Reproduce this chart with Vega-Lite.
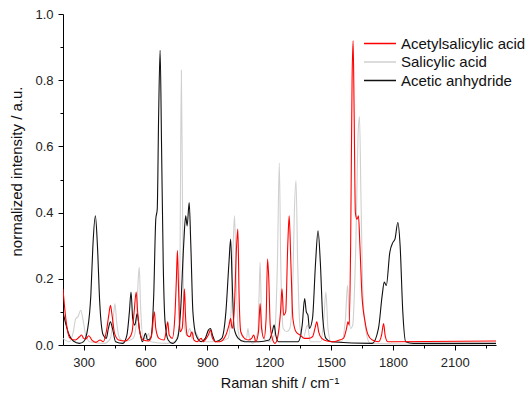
{
"$schema": "https://vega.github.io/schema/vega-lite/v6.json",
"width": 433, "height": 331,
"autosize": {"type": "none"},
"padding": {"left": 63, "top": 14, "right": 30, "bottom": 49},
"background": "white",
"config": {"view": {"stroke": null}, "font": "Liberation Sans"},
"data": {"values": [
{"s":"Salicylic acid","x":200,"y":0.02},{"s":"Salicylic acid","x":230,"y":0.01},{"s":"Salicylic acid","x":250,"y":0.04},{"s":"Salicylic acid","x":262,"y":0.08},{"s":"Salicylic acid","x":272,"y":0.085},{"s":"Salicylic acid","x":286,"y":0.105},{"s":"Salicylic acid","x":296,"y":0.08},{"s":"Salicylic acid","x":310,"y":0.03},{"s":"Salicylic acid","x":330,"y":0.01},{"s":"Salicylic acid","x":400,"y":0.005},{"s":"Salicylic acid","x":430,"y":0.02},{"s":"Salicylic acid","x":445,"y":0.09},{"s":"Salicylic acid","x":452,"y":0.125},{"s":"Salicylic acid","x":460,"y":0.07},{"s":"Salicylic acid","x":475,"y":0.02},{"s":"Salicylic acid","x":500,"y":0.01},{"s":"Salicylic acid","x":540,"y":0.02},{"s":"Salicylic acid","x":555,"y":0.06},{"s":"Salicylic acid","x":565,"y":0.2},{"s":"Salicylic acid","x":570,"y":0.235},{"s":"Salicylic acid","x":576,"y":0.12},{"s":"Salicylic acid","x":590,"y":0.02},{"s":"Salicylic acid","x":605,"y":0.02},{"s":"Salicylic acid","x":615,"y":0.035},{"s":"Salicylic acid","x":625,"y":0.01},{"s":"Salicylic acid","x":700,"y":0.005},{"s":"Salicylic acid","x":740,"y":0.01},{"s":"Salicylic acid","x":760,"y":0.04},{"s":"Salicylic acid","x":768,"y":0.3},{"s":"Salicylic acid","x":774,"y":0.83},{"s":"Salicylic acid","x":780,"y":0.4},{"s":"Salicylic acid","x":788,"y":0.06},{"s":"Salicylic acid","x":800,"y":0.03},{"s":"Salicylic acid","x":815,"y":0.05},{"s":"Salicylic acid","x":825,"y":0.02},{"s":"Salicylic acid","x":840,"y":0.04},{"s":"Salicylic acid","x":870,"y":0.01},{"s":"Salicylic acid","x":950,"y":0.01},{"s":"Salicylic acid","x":1000,"y":0.02},{"s":"Salicylic acid","x":1015,"y":0.1},{"s":"Salicylic acid","x":1025,"y":0.3},{"s":"Salicylic acid","x":1032,"y":0.39},{"s":"Salicylic acid","x":1040,"y":0.2},{"s":"Salicylic acid","x":1050,"y":0.04},{"s":"Salicylic acid","x":1065,"y":0.01},{"s":"Salicylic acid","x":1090,"y":0.02},{"s":"Salicylic acid","x":1097,"y":0.05},{"s":"Salicylic acid","x":1104,"y":0.02},{"s":"Salicylic acid","x":1120,"y":0.005},{"s":"Salicylic acid","x":1145,"y":0.04},{"s":"Salicylic acid","x":1151,"y":0.15},{"s":"Salicylic acid","x":1156,"y":0.25},{"s":"Salicylic acid","x":1162,"y":0.1},{"s":"Salicylic acid","x":1172,"y":0.02},{"s":"Salicylic acid","x":1200,"y":0.01},{"s":"Salicylic acid","x":1225,"y":0.03},{"s":"Salicylic acid","x":1240,"y":0.25},{"s":"Salicylic acid","x":1249,"y":0.55},{"s":"Salicylic acid","x":1256,"y":0.25},{"s":"Salicylic acid","x":1268,"y":0.05},{"s":"Salicylic acid","x":1285,"y":0.04},{"s":"Salicylic acid","x":1300,"y":0.05},{"s":"Salicylic acid","x":1315,"y":0.2},{"s":"Salicylic acid","x":1322,"y":0.4},{"s":"Salicylic acid","x":1330,"y":0.497},{"s":"Salicylic acid","x":1338,"y":0.25},{"s":"Salicylic acid","x":1350,"y":0.05},{"s":"Salicylic acid","x":1365,"y":0.02},{"s":"Salicylic acid","x":1385,"y":0.06},{"s":"Salicylic acid","x":1400,"y":0.01},{"s":"Salicylic acid","x":1450,"y":0.01},{"s":"Salicylic acid","x":1465,"y":0.08},{"s":"Salicylic acid","x":1475,"y":0.16},{"s":"Salicylic acid","x":1485,"y":0.05},{"s":"Salicylic acid","x":1500,"y":0.01},{"s":"Salicylic acid","x":1550,"y":0.01},{"s":"Salicylic acid","x":1570,"y":0.08},{"s":"Salicylic acid","x":1580,"y":0.18},{"s":"Salicylic acid","x":1588,"y":0.08},{"s":"Salicylic acid","x":1595,"y":0.05},{"s":"Salicylic acid","x":1605,"y":0.06},{"s":"Salicylic acid","x":1620,"y":0.3},{"s":"Salicylic acid","x":1632,"y":0.65},{"s":"Salicylic acid","x":1638,"y":0.69},{"s":"Salicylic acid","x":1645,"y":0.45},{"s":"Salicylic acid","x":1655,"y":0.15},{"s":"Salicylic acid","x":1670,"y":0.04},{"s":"Salicylic acid","x":1690,"y":0.005},{"s":"Salicylic acid","x":2300,"y":0.0},
{"s":"Acetic anhydride","x":200,"y":0.1},{"s":"Acetic anhydride","x":215,"y":0.06},{"s":"Acetic anhydride","x":230,"y":0.03},{"s":"Acetic anhydride","x":250,"y":0.012},{"s":"Acetic anhydride","x":280,"y":0.005},{"s":"Acetic anhydride","x":300,"y":0.01},{"s":"Acetic anhydride","x":320,"y":0.05},{"s":"Acetic anhydride","x":335,"y":0.15},{"s":"Acetic anhydride","x":345,"y":0.3},{"s":"Acetic anhydride","x":357,"y":0.39},{"s":"Acetic anhydride","x":367,"y":0.3},{"s":"Acetic anhydride","x":378,"y":0.13},{"s":"Acetic anhydride","x":395,"y":0.03},{"s":"Acetic anhydride","x":410,"y":0.02},{"s":"Acetic anhydride","x":420,"y":0.05},{"s":"Acetic anhydride","x":430,"y":0.07},{"s":"Acetic anhydride","x":440,"y":0.05},{"s":"Acetic anhydride","x":455,"y":0.01},{"s":"Acetic anhydride","x":490,"y":0.005},{"s":"Acetic anhydride","x":510,"y":0.03},{"s":"Acetic anhydride","x":522,"y":0.1},{"s":"Acetic anhydride","x":530,"y":0.16},{"s":"Acetic anhydride","x":538,"y":0.08},{"s":"Acetic anhydride","x":548,"y":0.06},{"s":"Acetic anhydride","x":560,"y":0.095},{"s":"Acetic anhydride","x":570,"y":0.05},{"s":"Acetic anhydride","x":585,"y":0.01},{"s":"Acetic anhydride","x":600,"y":0.035},{"s":"Acetic anhydride","x":610,"y":0.015},{"s":"Acetic anhydride","x":625,"y":0.02},{"s":"Acetic anhydride","x":640,"y":0.15},{"s":"Acetic anhydride","x":650,"y":0.38},{"s":"Acetic anhydride","x":657,"y":0.41},{"s":"Acetic anhydride","x":664,"y":0.7},{"s":"Acetic anhydride","x":671,"y":0.89},{"s":"Acetic anhydride","x":678,"y":0.6},{"s":"Acetic anhydride","x":686,"y":0.25},{"s":"Acetic anhydride","x":695,"y":0.07},{"s":"Acetic anhydride","x":710,"y":0.015},{"s":"Acetic anhydride","x":730,"y":0.005},{"s":"Acetic anhydride","x":755,"y":0.02},{"s":"Acetic anhydride","x":770,"y":0.1},{"s":"Acetic anhydride","x":785,"y":0.3},{"s":"Acetic anhydride","x":795,"y":0.39},{"s":"Acetic anhydride","x":802,"y":0.36},{"s":"Acetic anhydride","x":812,"y":0.43},{"s":"Acetic anhydride","x":820,"y":0.3},{"s":"Acetic anhydride","x":830,"y":0.1},{"s":"Acetic anhydride","x":845,"y":0.03},{"s":"Acetic anhydride","x":870,"y":0.01},{"s":"Acetic anhydride","x":890,"y":0.02},{"s":"Acetic anhydride","x":905,"y":0.045},{"s":"Acetic anhydride","x":915,"y":0.05},{"s":"Acetic anhydride","x":925,"y":0.03},{"s":"Acetic anhydride","x":940,"y":0.01},{"s":"Acetic anhydride","x":970,"y":0.02},{"s":"Acetic anhydride","x":990,"y":0.1},{"s":"Acetic anhydride","x":1005,"y":0.25},{"s":"Acetic anhydride","x":1013,"y":0.32},{"s":"Acetic anhydride","x":1020,"y":0.2},{"s":"Acetic anhydride","x":1030,"y":0.05},{"s":"Acetic anhydride","x":1050,"y":0.02},{"s":"Acetic anhydride","x":1080,"y":0.01},{"s":"Acetic anhydride","x":1150,"y":0.01},{"s":"Acetic anhydride","x":1200,"y":0.015},{"s":"Acetic anhydride","x":1215,"y":0.04},{"s":"Acetic anhydride","x":1224,"y":0.06},{"s":"Acetic anhydride","x":1232,"y":0.03},{"s":"Acetic anhydride","x":1245,"y":0.01},{"s":"Acetic anhydride","x":1340,"y":0.01},{"s":"Acetic anhydride","x":1360,"y":0.06},{"s":"Acetic anhydride","x":1372,"y":0.14},{"s":"Acetic anhydride","x":1380,"y":0.1},{"s":"Acetic anhydride","x":1388,"y":0.09},{"s":"Acetic anhydride","x":1395,"y":0.05},{"s":"Acetic anhydride","x":1410,"y":0.08},{"s":"Acetic anhydride","x":1425,"y":0.25},{"s":"Acetic anhydride","x":1437,"y":0.345},{"s":"Acetic anhydride","x":1448,"y":0.25},{"s":"Acetic anhydride","x":1460,"y":0.08},{"s":"Acetic anhydride","x":1475,"y":0.02},{"s":"Acetic anhydride","x":1500,"y":0.01},{"s":"Acetic anhydride","x":1700,"y":0.005},{"s":"Acetic anhydride","x":1730,"y":0.05},{"s":"Acetic anhydride","x":1748,"y":0.15},{"s":"Acetic anhydride","x":1758,"y":0.19},{"s":"Acetic anhydride","x":1768,"y":0.18},{"s":"Acetic anhydride","x":1785,"y":0.28},{"s":"Acetic anhydride","x":1800,"y":0.31},{"s":"Acetic anhydride","x":1810,"y":0.32},{"s":"Acetic anhydride","x":1824,"y":0.37},{"s":"Acetic anhydride","x":1835,"y":0.3},{"s":"Acetic anhydride","x":1848,"y":0.1},{"s":"Acetic anhydride","x":1862,"y":0.01},{"s":"Acetic anhydride","x":1900,"y":0.005},{"s":"Acetic anhydride","x":2300,"y":0.005},
{"s":"Acetylsalicylic acid","x":200,"y":0.17},{"s":"Acetylsalicylic acid","x":210,"y":0.1},{"s":"Acetylsalicylic acid","x":220,"y":0.05},{"s":"Acetylsalicylic acid","x":235,"y":0.02},{"s":"Acetylsalicylic acid","x":260,"y":0.015},{"s":"Acetylsalicylic acid","x":280,"y":0.025},{"s":"Acetylsalicylic acid","x":290,"y":0.03},{"s":"Acetylsalicylic acid","x":300,"y":0.02},{"s":"Acetylsalicylic acid","x":310,"y":0.018},{"s":"Acetylsalicylic acid","x":325,"y":0.028},{"s":"Acetylsalicylic acid","x":340,"y":0.015},{"s":"Acetylsalicylic acid","x":360,"y":0.008},{"s":"Acetylsalicylic acid","x":380,"y":0.015},{"s":"Acetylsalicylic acid","x":395,"y":0.01},{"s":"Acetylsalicylic acid","x":410,"y":0.04},{"s":"Acetylsalicylic acid","x":422,"y":0.09},{"s":"Acetylsalicylic acid","x":430,"y":0.12},{"s":"Acetylsalicylic acid","x":438,"y":0.09},{"s":"Acetylsalicylic acid","x":450,"y":0.035},{"s":"Acetylsalicylic acid","x":470,"y":0.015},{"s":"Acetylsalicylic acid","x":500,"y":0.012},{"s":"Acetylsalicylic acid","x":520,"y":0.02},{"s":"Acetylsalicylic acid","x":535,"y":0.04},{"s":"Acetylsalicylic acid","x":545,"y":0.1},{"s":"Acetylsalicylic acid","x":555,"y":0.16},{"s":"Acetylsalicylic acid","x":562,"y":0.1},{"s":"Acetylsalicylic acid","x":572,"y":0.04},{"s":"Acetylsalicylic acid","x":590,"y":0.015},{"s":"Acetylsalicylic acid","x":615,"y":0.012},{"s":"Acetylsalicylic acid","x":630,"y":0.03},{"s":"Acetylsalicylic acid","x":643,"y":0.1},{"s":"Acetylsalicylic acid","x":650,"y":0.05},{"s":"Acetylsalicylic acid","x":665,"y":0.02},{"s":"Acetylsalicylic acid","x":690,"y":0.015},{"s":"Acetylsalicylic acid","x":700,"y":0.04},{"s":"Acetylsalicylic acid","x":708,"y":0.07},{"s":"Acetylsalicylic acid","x":715,"y":0.03},{"s":"Acetylsalicylic acid","x":730,"y":0.02},{"s":"Acetylsalicylic acid","x":742,"y":0.08},{"s":"Acetylsalicylic acid","x":750,"y":0.2},{"s":"Acetylsalicylic acid","x":755,"y":0.285},{"s":"Acetylsalicylic acid","x":760,"y":0.18},{"s":"Acetylsalicylic acid","x":768,"y":0.04},{"s":"Acetylsalicylic acid","x":778,"y":0.05},{"s":"Acetylsalicylic acid","x":785,"y":0.12},{"s":"Acetylsalicylic acid","x":789,"y":0.17},{"s":"Acetylsalicylic acid","x":794,"y":0.09},{"s":"Acetylsalicylic acid","x":802,"y":0.03},{"s":"Acetylsalicylic acid","x":815,"y":0.025},{"s":"Acetylsalicylic acid","x":825,"y":0.04},{"s":"Acetylsalicylic acid","x":835,"y":0.015},{"s":"Acetylsalicylic acid","x":850,"y":0.01},{"s":"Acetylsalicylic acid","x":870,"y":0.02},{"s":"Acetylsalicylic acid","x":880,"y":0.01},{"s":"Acetylsalicylic acid","x":895,"y":0.02},{"s":"Acetylsalicylic acid","x":905,"y":0.03},{"s":"Acetylsalicylic acid","x":915,"y":0.045},{"s":"Acetylsalicylic acid","x":925,"y":0.02},{"s":"Acetylsalicylic acid","x":940,"y":0.01},{"s":"Acetylsalicylic acid","x":960,"y":0.01},{"s":"Acetylsalicylic acid","x":975,"y":0.015},{"s":"Acetylsalicylic acid","x":990,"y":0.03},{"s":"Acetylsalicylic acid","x":1005,"y":0.06},{"s":"Acetylsalicylic acid","x":1013,"y":0.08},{"s":"Acetylsalicylic acid","x":1020,"y":0.05},{"s":"Acetylsalicylic acid","x":1030,"y":0.1},{"s":"Acetylsalicylic acid","x":1042,"y":0.3},{"s":"Acetylsalicylic acid","x":1048,"y":0.35},{"s":"Acetylsalicylic acid","x":1054,"y":0.15},{"s":"Acetylsalicylic acid","x":1062,"y":0.04},{"s":"Acetylsalicylic acid","x":1080,"y":0.02},{"s":"Acetylsalicylic acid","x":1100,"y":0.015},{"s":"Acetylsalicylic acid","x":1115,"y":0.02},{"s":"Acetylsalicylic acid","x":1125,"y":0.03},{"s":"Acetylsalicylic acid","x":1135,"y":0.01},{"s":"Acetylsalicylic acid","x":1148,"y":0.04},{"s":"Acetylsalicylic acid","x":1156,"y":0.125},{"s":"Acetylsalicylic acid","x":1163,"y":0.05},{"s":"Acetylsalicylic acid","x":1175,"y":0.02},{"s":"Acetylsalicylic acid","x":1185,"y":0.08},{"s":"Acetylsalicylic acid","x":1192,"y":0.26},{"s":"Acetylsalicylic acid","x":1198,"y":0.2},{"s":"Acetylsalicylic acid","x":1205,"y":0.06},{"s":"Acetylsalicylic acid","x":1215,"y":0.02},{"s":"Acetylsalicylic acid","x":1228,"y":0.005},{"s":"Acetylsalicylic acid","x":1240,"y":0.02},{"s":"Acetylsalicylic acid","x":1255,"y":0.1},{"s":"Acetylsalicylic acid","x":1262,"y":0.17},{"s":"Acetylsalicylic acid","x":1270,"y":0.09},{"s":"Acetylsalicylic acid","x":1280,"y":0.1},{"s":"Acetylsalicylic acid","x":1290,"y":0.3},{"s":"Acetylsalicylic acid","x":1297,"y":0.39},{"s":"Acetylsalicylic acid","x":1305,"y":0.25},{"s":"Acetylsalicylic acid","x":1315,"y":0.08},{"s":"Acetylsalicylic acid","x":1330,"y":0.04},{"s":"Acetylsalicylic acid","x":1350,"y":0.03},{"s":"Acetylsalicylic acid","x":1370,"y":0.02},{"s":"Acetylsalicylic acid","x":1390,"y":0.02},{"s":"Acetylsalicylic acid","x":1410,"y":0.025},{"s":"Acetylsalicylic acid","x":1422,"y":0.05},{"s":"Acetylsalicylic acid","x":1431,"y":0.07},{"s":"Acetylsalicylic acid","x":1440,"y":0.04},{"s":"Acetylsalicylic acid","x":1455,"y":0.02},{"s":"Acetylsalicylic acid","x":1480,"y":0.012},{"s":"Acetylsalicylic acid","x":1510,"y":0.01},{"s":"Acetylsalicylic acid","x":1540,"y":0.015},{"s":"Acetylsalicylic acid","x":1560,"y":0.02},{"s":"Acetylsalicylic acid","x":1575,"y":0.05},{"s":"Acetylsalicylic acid","x":1582,"y":0.07},{"s":"Acetylsalicylic acid","x":1588,"y":0.06},{"s":"Acetylsalicylic acid","x":1595,"y":0.3},{"s":"Acetylsalicylic acid","x":1602,"y":0.8},{"s":"Acetylsalicylic acid","x":1607,"y":0.92},{"s":"Acetylsalicylic acid","x":1612,"y":0.7},{"s":"Acetylsalicylic acid","x":1618,"y":0.4},{"s":"Acetylsalicylic acid","x":1626,"y":0.38},{"s":"Acetylsalicylic acid","x":1633,"y":0.39},{"s":"Acetylsalicylic acid","x":1640,"y":0.3},{"s":"Acetylsalicylic acid","x":1650,"y":0.15},{"s":"Acetylsalicylic acid","x":1665,"y":0.07},{"s":"Acetylsalicylic acid","x":1680,"y":0.03},{"s":"Acetylsalicylic acid","x":1700,"y":0.015},{"s":"Acetylsalicylic acid","x":1730,"y":0.01},{"s":"Acetylsalicylic acid","x":1745,"y":0.03},{"s":"Acetylsalicylic acid","x":1755,"y":0.065},{"s":"Acetylsalicylic acid","x":1762,"y":0.03},{"s":"Acetylsalicylic acid","x":1775,"y":0.01},{"s":"Acetylsalicylic acid","x":1800,"y":0.01},{"s":"Acetylsalicylic acid","x":2300,"y":0.012}
]},
"mark": {"type": "line", "strokeWidth": 1.1, "interpolate": "monotone", "clip": true},
"encoding": {
"x": {"field": "x", "type": "quantitative",
"scale": {"domain": [200, 2300], "nice": false, "zero": false},
"axis": {"title": "Raman shift / cm⁻¹", "values": [300,450,600,750,900,1050,1200,1350,1500,1650,1800,1950,2100,2250],
"labelExpr": "datum.value % 300 === 0 ? datum.label : ''", "format": "d",
"tickSize": {"expr": "datum.value % 300 === 0 ? 5 : 3"},
"grid": false, "domainColor": "#000", "tickColor": "#000", "labelColor": "#222", "labelFontSize": 13, "labelFont": "Liberation Sans", "labelPadding": 6,
"titleFont": "Liberation Sans", "titleFontSize": 14.5, "titleFontWeight": "normal", "titleColor": "#111", "titlePadding": 7}},
"y": {"field": "y", "type": "quantitative",
"scale": {"domain": [0, 1], "nice": false},
"axis": {"title": "normalized intensity / a.u.", "values": [0,0.1,0.2,0.3,0.4,0.5,0.6,0.7,0.8,0.9,1.0],
"labelExpr": "round(datum.value*10) % 2 === 0 ? format(datum.value, '.1f') : ''",
"tickSize": {"expr": "round(datum.value*10) % 2 === 0 ? 5 : 3"},
"grid": false, "domainColor": "#000", "tickColor": "#000", "labelColor": "#222", "labelFontSize": 13, "labelFont": "Liberation Sans", "labelPadding": 5,
"titleFont": "Liberation Sans", "titleFontSize": 15, "titleFontWeight": "normal", "titleColor": "#111", "titlePadding": 10, "titleY": 157}},
"color": {"field": "s", "type": "nominal",
"scale": {"domain": ["Acetylsalicylic acid", "Salicylic acid", "Acetic anhydride"], "range": ["#ff0000", "#d0d0d0", "#111111"]},
"legend": {"title": null, "orient": "none", "legendX": 300, "legendY": 22, "symbolType": "stroke", "symbolSize": 1024, "symbolStrokeWidth": 1.3, "clipHeight": 15, "rowPadding": 2.5, "labelFontSize": 15, "labelFont": "Liberation Sans", "labelColor": "#111", "labelOffset": 4}},
"order": {"value": 0}
}
}
